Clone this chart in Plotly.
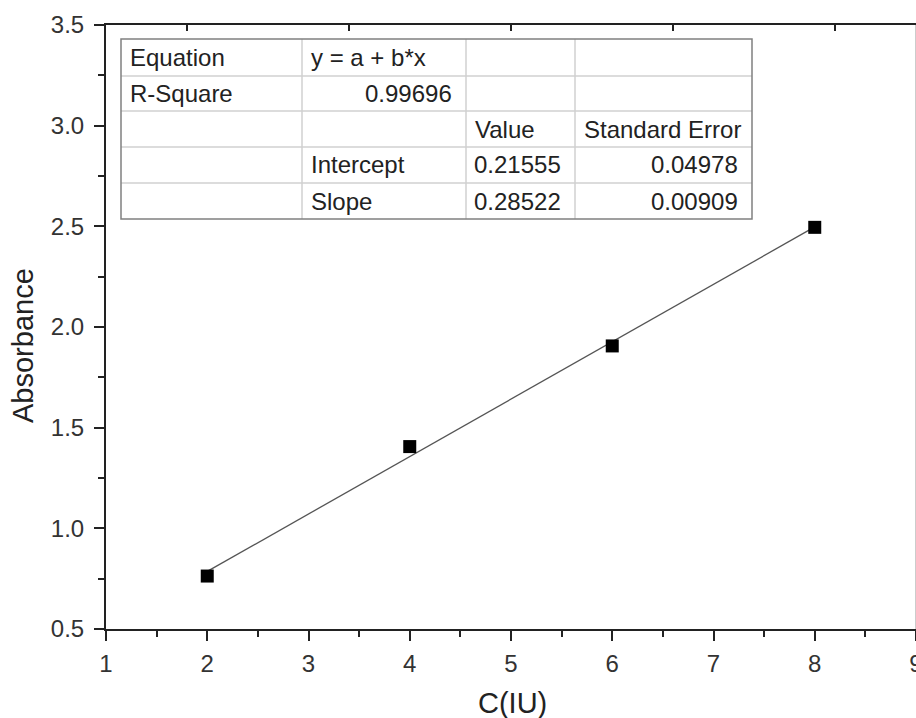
import plotly.graph_objects as go

# ---- data ----
conc = [2, 4, 6, 8]
absorbance = [0.763, 1.406, 1.906, 2.495]
fit_intercept = 0.21555
fit_slope = 0.28522
x_ticks = [1, 2, 3, 4, 5, 6, 7, 8, 9]
y_ticks = [0.5, 1.0, 1.5, 2.0, 2.5, 3.0, 3.5]
top_ticks = [1.8, 3.4, 5.0, 6.6, 8.2]
table_rows = [
    ["Equation", "y = a + b*x", "", ""],
    ["R-Square", "0.99696", "", ""],
    ["", "", "Value", "Standard Error"],
    ["", "Intercept", "0.21555", "0.04978"],
    ["", "Slope", "0.28522", "0.00909"],
]

FONT = "Arial, Liberation Sans, sans-serif"
W, H = 916, 718
L, R, T, B = 106, 0, 25, 89
PW, PH = W - L - R, H - T - B


def px(x):
    return (x - L) / PW


def py(y):
    return (H - B - y) / PH


fig = go.Figure()

fit_x = [min(conc), max(conc)]
fit_y = [fit_intercept + fit_slope * v for v in fit_x]
fig.add_trace(go.Scatter(x=fit_x, y=fit_y, mode="lines",
                         line=dict(color="#555555", width=1.3),
                         hoverinfo="skip", showlegend=False))
fig.add_trace(go.Scatter(x=conc, y=absorbance, mode="markers",
                         marker=dict(symbol="square", size=13, color="black"),
                         showlegend=False))
fig.add_trace(go.Scatter(x=[1], y=[0.5], xaxis="x2", mode="markers",
                         marker=dict(opacity=0), hoverinfo="skip", showlegend=False))

axis_common = dict(showline=True, linewidth=2, linecolor="#222222", showgrid=False,
                   zeroline=False, tickwidth=2, tickcolor="#222222", automargin=False)
tickfont = dict(family=FONT, size=24, color="#333333")

fig.update_layout(
    width=W, height=H,
    margin=dict(l=L, r=R, t=T, b=B),
    plot_bgcolor="white", paper_bgcolor="white",
    xaxis=dict(range=[1, 9], tickvals=x_ticks, ticktext=[str(v) for v in x_ticks],
               ticks="outside", ticklen=10, tickfont=tickfont, ticklabelstandoff=2,
               ticklabeloverflow="allow",
               minor=dict(dtick=0.5, ticks="outside", ticklen=6, tickwidth=2, tickcolor="#222222"),
               **axis_common),
    xaxis2=dict(range=[1, 9], overlaying="x", side="top", anchor="y",
                tickvals=top_ticks, ticks="inside", ticklen=6, showticklabels=False,
                **axis_common),
    yaxis=dict(range=[0.5, 3.5], tickvals=y_ticks, ticktext=[f"{v:.1f}" for v in y_ticks],
               ticks="outside", ticklen=10, tickfont=tickfont, ticklabelstandoff=5,
               minor=dict(dtick=0.25, ticks="outside", ticklen=6, tickwidth=2, tickcolor="#222222"),
               **axis_common),
)

# axis titles
fig.add_annotation(text="C(IU)", xref="paper", yref="paper", x=px(512), y=py(703),
                   xanchor="center", yanchor="middle",
                   showarrow=False, font=dict(family=FONT, size=29, color="#222222"))
fig.add_annotation(text="Absorbance", xref="paper", yref="paper", x=px(23), y=py(346),
                   xanchor="center", yanchor="middle",
                   textangle=-90, showarrow=False, font=dict(family=FONT, size=29, color="#222222"))

# right frame edge
fig.add_shape(type="line", xref="paper", yref="paper", x0=px(915.5), x1=px(915.5), y0=0, y1=1,
              line=dict(color="#cccccc", width=1))

# results table
col_edges = [121, 302, 466, 575, 752]
row_edges = [39, 76, 111, 147, 183, 219]
for xe in col_edges[1:-1]:
    fig.add_shape(type="line", xref="paper", yref="paper", x0=px(xe), x1=px(xe),
                  y0=py(row_edges[0]), y1=py(row_edges[-1]), line=dict(color="#d0d0d0", width=1.5))
for ye in row_edges[1:-1]:
    fig.add_shape(type="line", xref="paper", yref="paper", x0=px(col_edges[0]), x1=px(col_edges[-1]),
                  y0=py(ye), y1=py(ye), line=dict(color="#d0d0d0", width=1.5))
fig.add_shape(type="rect", xref="paper", yref="paper", x0=px(col_edges[0]), x1=px(col_edges[-1]),
              y0=py(row_edges[0]), y1=py(row_edges[-1]), line=dict(color="#808080", width=1.5),
              fillcolor="rgba(0,0,0,0)")

for ri, row in enumerate(table_rows):
    yc = (row_edges[ri] + row_edges[ri + 1]) / 2
    for ci, txt in enumerate(row):
        if not txt:
            continue
        numeric = txt[0].isdigit()
        if numeric:
            x = col_edges[ci + 1] - 12
            anchor = "right"
        else:
            x = col_edges[ci] + 7
            anchor = "left"
        fig.add_annotation(text=txt, xref="paper", yref="paper", x=px(x), y=py(yc),
                           xanchor=anchor, yanchor="middle", showarrow=False,
                           font=dict(family=FONT, size=24, color="#222222"))

fig.write_html("out.html", config={"displayModeBar": False},
               post_script="document.body.style.margin='0';document.body.style.overflow='hidden';")
